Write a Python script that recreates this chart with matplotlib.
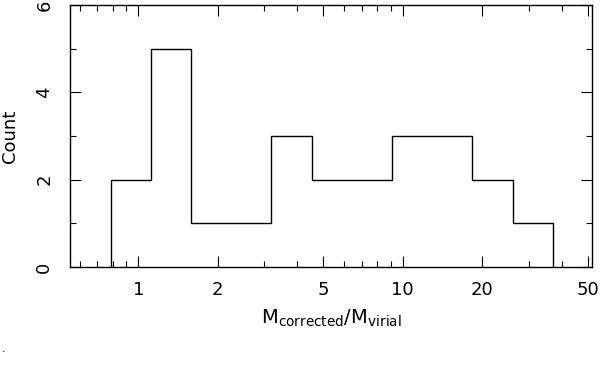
import numpy as np
import matplotlib
matplotlib.use("Agg")
import matplotlib.pyplot as plt
from matplotlib.ticker import FixedLocator, FixedFormatter, MultipleLocator

# bin edges (mass ratio) and counts
edges = [0.786, 1.116, 1.584, 2.247, 3.189, 4.524, 6.42, 9.11, 12.93, 18.34, 26.03, 36.95]
counts = [2, 5, 1, 1, 3, 2, 2, 3, 3, 2, 1]

xticks = [1, 2, 5, 10, 20, 50]
xtick_labels = ["1", "2", "5", "10", "20", "50"]
yticks = [0, 2, 4, 6]

plt.rcParams['font.family'] = ['DejaVu Sans']

fig = plt.figure(figsize=(6.0, 3.74), dpi=100)
ax = fig.add_axes([0.1167, 0.2861, 0.87, 0.7005])

ax.stairs(counts, edges, color='black', linewidth=1.0, baseline=0)

ax.set_xscale('log')
ax.set_xlim(0.552, 52.0)
ax.set_ylim(0, 6)

ax.xaxis.set_major_locator(FixedLocator(xticks))
ax.xaxis.set_major_formatter(FixedFormatter(xtick_labels))
minors = [v * d for d in (0.1, 1, 10) for v in range(2, 10)]
minors = [m for m in minors if m not in xticks]
ax.xaxis.set_minor_locator(FixedLocator(minors))
ax.xaxis.set_minor_formatter(FixedFormatter([''] * len(minors)))

ax.yaxis.set_major_locator(FixedLocator(yticks))
ax.yaxis.set_minor_locator(MultipleLocator(1))

ax.tick_params(which='both', direction='in', top=True, right=True, width=0.8, color='black')
ax.tick_params(which='major', length=8)
ax.tick_params(which='minor', length=4)
ax.tick_params(axis='x', which='major', pad=10, labelsize=13)
ax.tick_params(axis='y', which='major', pad=12, labelsize=13)
for lab in ax.get_yticklabels():
    lab.set_rotation(90)
    lab.set_va('center')

for s in ax.spines.values():
    s.set_linewidth(1.0)

ax.set_ylabel('Count', fontsize=13, labelpad=12)
ax.set_xlabel(r'$\mathregular{M_{corrected}/M_{virial}}$', fontsize=14, labelpad=6)

fig.text(0.003, 0.058, '.', fontsize=8)

fig.savefig('out.png', dpi=100)
